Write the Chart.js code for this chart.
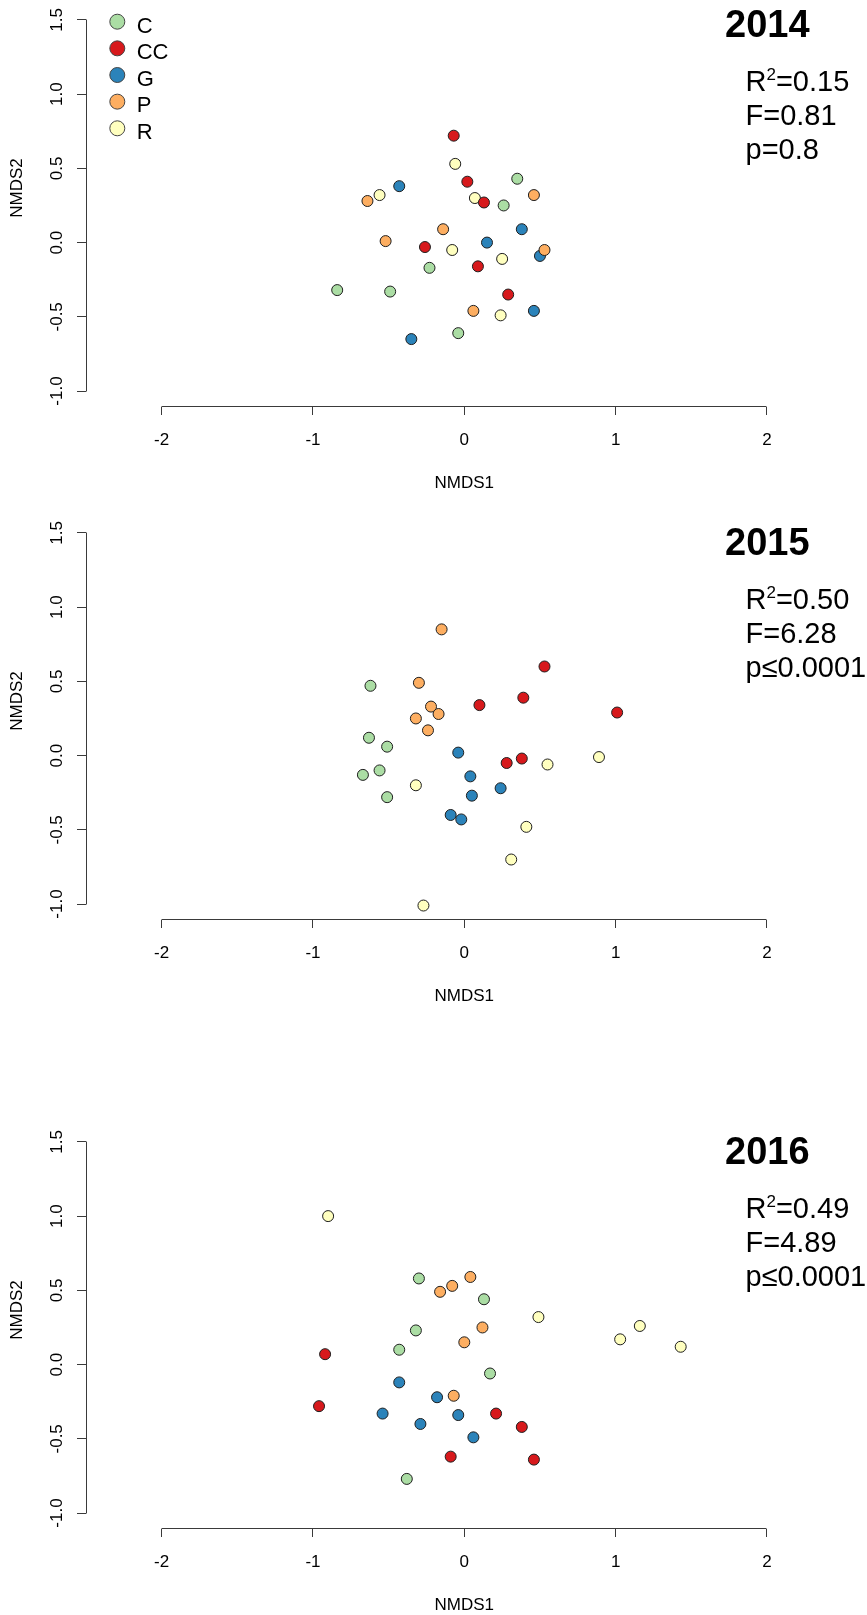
<!DOCTYPE html>
<html>
<head>
<meta charset="utf-8">
<script src="https://cdn.jsdelivr.net/npm/chart.js@4.4.1/dist/chart.umd.min.js"></script>
<style>
  html, body { margin: 0; padding: 0; background: #fff; }
  body { width: 867px; height: 1615px; position: relative; overflow: hidden; }
  canvas { position: absolute; left: 0; }
</style>
</head>
<body>
<canvas id="nmds2014" width="867" height="500" style="top:0px"></canvas>
<canvas id="nmds2015" width="867" height="500" style="top:513px"></canvas>
<canvas id="nmds2016" width="867" height="500" style="top:1122px"></canvas>
<script>
const groups = ['C', 'CC', 'G', 'P', 'R'];
const groupColors = ['#ABDDA4', '#D7191C', '#2B83BA', '#FDAE61', '#FFFFBF'];
const drawOrder = [0, 1, 3, 2, 4];

const years = ['2014', '2015', '2016'];
const r2Values = ['0.15', '0.50', '0.49'];
const fValues = ['0.81', '6.28', '4.89'];
const pValues = ['p=0.8', 'p\u22640.0001', 'p\u22640.0001'];

const xTicks = [-2, -1, 0, 1, 2];
const yTicks = [-1, -0.5, 0, 0.5, 1, 1.5];

// NMDS scores per group, [NMDS1, NMDS2]
const c2014 = [[0.35, 0.43], [0.26, 0.25], [-0.23, -0.17], [-0.84, -0.32], [-0.49, -0.33], [-0.04, -0.61]];
const cc2014 = [[-0.07, 0.72], [0.02, 0.41], [0.13, 0.27], [-0.26, -0.03], [0.09, -0.16], [0.29, -0.35]];
const g2014 = [[-0.43, 0.38], [0.38, 0.09], [0.15, 0.00], [0.50, -0.09], [0.46, -0.46], [-0.35, -0.65]];
const p2014 = [[-0.64, 0.28], [0.46, 0.32], [-0.14, 0.09], [-0.52, 0.01], [0.53, -0.05], [0.06, -0.46]];
const r2014 = [[-0.06, 0.53], [-0.56, 0.32], [0.07, 0.30], [-0.08, -0.05], [0.25, -0.11], [0.24, -0.49]];

const c2015 = [[-0.62, 0.47], [-0.63, 0.12], [-0.51, 0.06], [-0.67, -0.13], [-0.56, -0.10], [-0.51, -0.28]];
const cc2015 = [[0.53, 0.60], [0.39, 0.39], [0.10, 0.34], [0.28, -0.05], [0.38, -0.02], [1.01, 0.29]];
const g2015 = [[-0.04, 0.02], [0.04, -0.14], [0.24, -0.22], [0.05, -0.27], [-0.09, -0.40], [-0.02, -0.43]];
const p2015 = [[-0.15, 0.85], [-0.30, 0.49], [-0.22, 0.33], [-0.17, 0.28], [-0.32, 0.25], [-0.24, 0.17]];
const r2015 = [[0.55, -0.06], [0.89, -0.01], [-0.32, -0.20], [0.41, -0.48], [0.31, -0.70], [-0.27, -1.01]];

const c2016 = [[-0.30, 0.58], [0.13, 0.44], [-0.32, 0.23], [-0.43, 0.10], [0.17, -0.06], [-0.38, -0.77]];
const cc2016 = [[-0.92, 0.07], [-0.96, -0.28], [0.21, -0.33], [0.38, -0.42], [-0.09, -0.62], [0.46, -0.64]];
const g2016 = [[-0.43, -0.12], [-0.18, -0.22], [-0.54, -0.33], [-0.04, -0.34], [-0.29, -0.40], [0.06, -0.49]];
const p2016 = [[0.04, 0.59], [-0.08, 0.53], [-0.16, 0.49], [0.12, 0.25], [0.00, 0.15], [-0.07, -0.21]];
const r2016 = [[-0.90, 1.00], [0.49, 0.32], [1.03, 0.17], [1.16, 0.26], [1.43, 0.12]];

const FONT = '"Liberation Sans", Arial, Helvetica, sans-serif';
const axisColor = '#3a3a3a';
const pointEdge = '#1e1e1e';

const crisp = v => Math.round(v - 0.5) + 0.5;

const decor = {
  id: 'nmdsDecor',
  afterDraw(chart, args, opts) {
    const {ctx, chartArea} = chart;
    const x = chart.scales.x, y = chart.scales.y;
    ctx.save();

    // axis lines span first..last tick, like base R axis()
    ctx.strokeStyle = axisColor;
    ctx.lineWidth = 1;
    ctx.beginPath();
    const by = crisp(chartArea.bottom);
    ctx.moveTo(crisp(x.getPixelForValue(xTicks[0])), by);
    ctx.lineTo(crisp(x.getPixelForValue(xTicks[xTicks.length - 1])), by);
    const lx = crisp(chartArea.left);
    ctx.moveTo(lx, crisp(y.getPixelForValue(yTicks[0])));
    ctx.lineTo(lx, crisp(y.getPixelForValue(yTicks[yTicks.length - 1])));
    ctx.stroke();

    ctx.fillStyle = '#000';
    ctx.textBaseline = 'alphabetic';

    // x tick labels + title
    ctx.font = '17px ' + FONT;
    ctx.textAlign = 'center';
    xTicks.forEach(v => ctx.fillText(String(v), x.getPixelForValue(v), 445));
    ctx.fillText('NMDS1', (chartArea.left + chartArea.right) / 2, 488);

    // y tick labels, vertical
    yTicks.forEach(v => {
      ctx.save();
      ctx.translate(62, y.getPixelForValue(v));
      ctx.rotate(-Math.PI / 2);
      ctx.fillText(v.toFixed(1), 0, 0);
      ctx.restore();
    });
    ctx.save();
    ctx.translate(22, 188);
    ctx.rotate(-Math.PI / 2);
    ctx.fillText('NMDS2', 0, 0);
    ctx.restore();

    // legend (first panel only)
    if (opts.legend) {
      chart.data.datasets.forEach((ds, i) => {
        const cy = 21.7 + i * 26.65;
        ctx.beginPath();
        ctx.arc(117.3, cy, 7.5, 0, Math.PI * 2);
        ctx.fillStyle = ds.backgroundColor;
        ctx.fill();
        ctx.strokeStyle = '#444';
        ctx.lineWidth = 1;
        ctx.stroke();
        ctx.fillStyle = '#000';
        ctx.font = '22px ' + FONT;
        ctx.textAlign = 'left';
        ctx.fillText(ds.label, 136.7, cy + 10.8);
      });
    }

    // year and PERMANOVA stats
    const s = opts.shift;
    ctx.textAlign = 'left';
    ctx.fillStyle = '#000';
    ctx.font = 'bold 38px ' + FONT;
    ctx.fillText(opts.year, 725, 36.7 + s);

    ctx.font = '29px ' + FONT;
    const tx = 745.5;
    ctx.fillText('R', tx, 90.7 + s);
    const rw = ctx.measureText('R').width;
    ctx.font = '17px ' + FONT;
    ctx.fillText('2', tx + rw, 80 + s);
    const sw = ctx.measureText('2').width;
    ctx.font = '29px ' + FONT;
    ctx.fillText('=' + opts.r2, tx + rw + sw, 90.7 + s);
    ctx.fillText('F=' + opts.f, tx, 124.7 + s);
    ctx.fillText(opts.p, tx, 158.5 + s);

    ctx.restore();
  }
};

function makeChart(id, idx, sets, showLegend, shift) {
  return new Chart(document.getElementById(id), {
    type: 'scatter',
    data: {
      datasets: groups.map((g, i) => ({
        label: g,
        data: sets[i].map(([a, b]) => ({x: a, y: b})),
        backgroundColor: groupColors[i],
        borderColor: pointEdge,
        borderWidth: 1,
        pointRadius: 5.5,
        order: drawOrder[i]
      }))
    },
    options: {
      responsive: false,
      animation: false,
      events: [],
      layout: {padding: {left: 0, right: 24.4, top: 0.75, bottom: 0}},
      plugins: {
        legend: {display: false},
        tooltip: {enabled: false},
        nmdsDecor: {
          year: years[idx], r2: r2Values[idx], f: fValues[idx], p: pValues[idx],
          legend: showLegend, shift: shift
        }
      },
      scales: {
        x: {
          type: 'linear', min: -2.5, max: 2.5,
          afterBuildTicks: s => { s.ticks = xTicks.map(v => ({value: v})); },
          afterFit: s => { s.height = 93.5; },
          grid: {drawOnChartArea: false, drawTicks: true, tickLength: 8.5, color: axisColor, lineWidth: 1},
          border: {display: false},
          ticks: {display: false}
        },
        y: {
          type: 'linear', min: -1.104, max: 1.59,
          afterBuildTicks: s => { s.ticks = yTicks.map(v => ({value: v})); },
          afterFit: s => { s.width = 86; },
          grid: {drawOnChartArea: false, drawTicks: true, tickLength: 9, color: axisColor, lineWidth: 1},
          border: {display: false},
          ticks: {display: false}
        }
      }
    },
    plugins: [decor]
  });
}

makeChart('nmds2014', 0, [c2014, cc2014, g2014, p2014, r2014], true, 0);
makeChart('nmds2015', 1, [c2015, cc2015, g2015, p2015, r2015], false, 5);
makeChart('nmds2016', 2, [c2016, cc2016, g2016, p2016, r2016], false, 5);
</script>
</body>
</html>
